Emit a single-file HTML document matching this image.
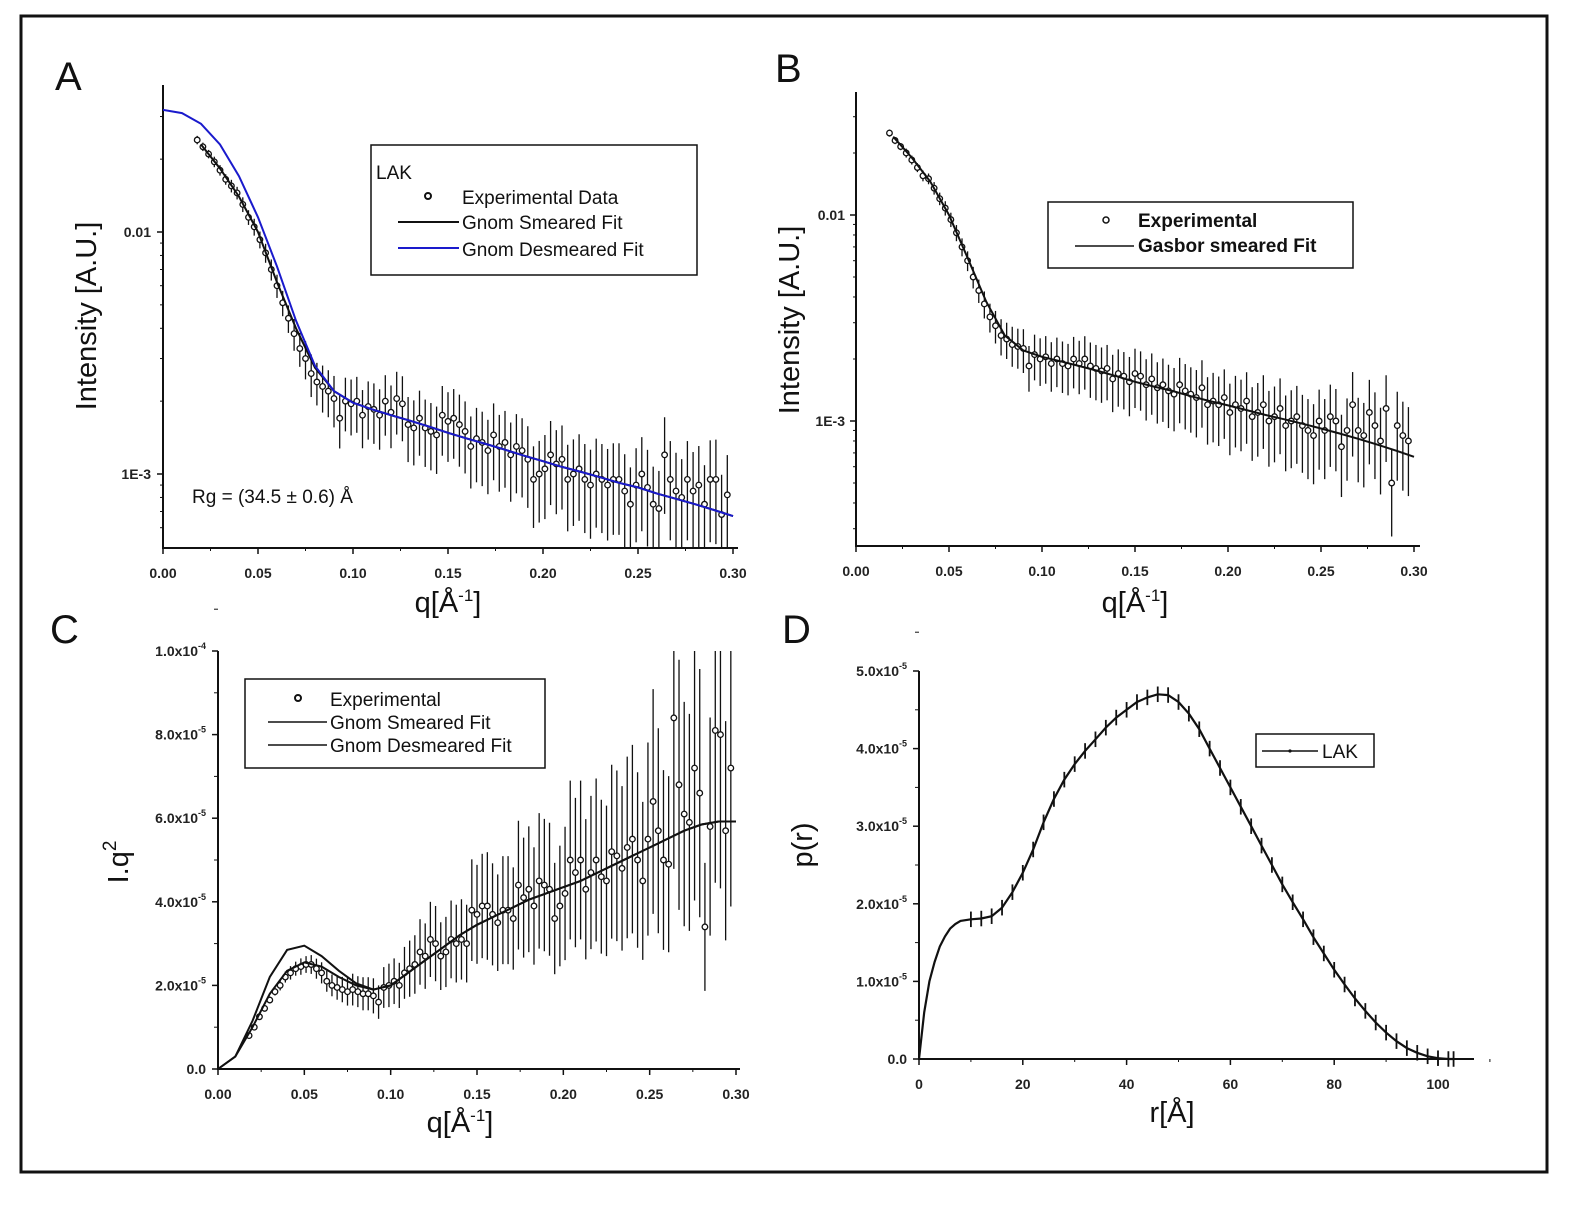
<!DOCTYPE html>
<html><head><meta charset="utf-8">
<style>
html,body{margin:0;padding:0;background:#fff;}
svg{display:block;font-family:"Liberation Sans",sans-serif;}
.tk{font-size:14px;font-weight:bold;fill:#222;}
.tt{font-size:29px;fill:#111;}
.lg{font-size:19px;fill:#111;}
.pl{font-size:40px;fill:#111;}
</style></head>
<body>
<svg id="fig" width="1593" height="1210" viewBox="0 0 1593 1210">
<rect x="21" y="16" width="1526" height="1156" fill="none" stroke="#111" stroke-width="3"/>
<defs>
<clipPath id="clipA"><rect x="163" y="85" width="575" height="463"/></clipPath>
<clipPath id="clipB"><rect x="856" y="92" width="565" height="454"/></clipPath>
<clipPath id="clipC"><rect x="218" y="651" width="525" height="418"/></clipPath>
</defs>
<text class="pl" x="55" y="90">A</text>
<text class="pl" x="775" y="82">B</text>
<text class="pl" x="50" y="643">C</text>
<text class="pl" x="782" y="643">D</text>
<g id="gA"></g>
<g id="gB"></g>
<g id="gC"></g>
<g id="gD"></g>
</svg>
<script>
// ---------- data ----------
const qStart = 0.018, qStep = 0.003;
const intensityA = [24,22.5,21,19.5,18,16.5,15.5,14.5,13,11.5,10.5,9.3,8.2,7.0,6.0,5.1,4.4,3.8,3.3,3.0,2.6,2.4,2.3,2.2,2.05,1.7,2.0,1.95,2.0,1.75,1.9,1.85,1.75,2.0,1.8,2.05,1.95,1.6,1.55,1.7,1.55,1.5,1.45,1.75,1.65,1.7,1.6,1.5,1.3,1.4,1.35,1.25,1.45,1.3,1.35,1.2,1.3,1.25,1.15,0.95,1.0,1.05,1.2,1.1,1.15,0.95,1.0,1.05,0.95,0.9,1.0,0.95,0.9,0.95,0.95,0.85,0.75,0.9,1.0,0.88,0.75,0.72,1.2,0.95,0.85,0.8,0.95,0.85,0.9,0.75,0.95,0.95,0.68,0.82];
const relErr = [.04,.04,.04,.05,.05,.05,.06,.06,.07,.07,.08,.08,.09,.1,.11,.12,.13,.15,.16,.18,.2,.2,.22,.22,.24,.25,.25,.26,.26,.27,.27,.28,.28,.28,.29,.29,.3,.3,.3,.3,.31,.31,.31,.32,.32,.32,.33,.33,.33,.34,.34,.34,.35,.35,.35,.36,.36,.36,.37,.37,.37,.38,.38,.38,.38,.39,.39,.39,.4,.4,.4,.4,.41,.41,.41,.42,.42,.42,.42,.43,.43,.43,.43,.44,.44,.44,.44,.45,.45,.45,.45,.46,.46,.46];
const fitQ = [0,.01,.02,.03,.04,.05,.06,.07,.08,.09,.10,.11,.12,.13,.14,.15,.16,.17,.18,.19,.20,.21,.22,.23,.24,.25,.26,.27,.28,.29,.30];
const desmearedA = [32,31,28,23,17,11.5,7.2,4.3,2.8,2.2,1.97,1.85,1.75,1.66,1.57,1.48,1.40,1.33,1.26,1.19,1.13,1.07,1.02,0.97,0.92,0.88,0.83,0.79,0.75,0.71,0.67];
const smearedA = [null,null,23,18.3,14,10,6.2,4.0,2.75,2.2,1.97,1.85,1.75,1.66,1.57,1.48,1.40,1.33,1.26,1.19,1.13,1.07,1.02,0.97,0.92,0.88,0.83,0.79,0.75,0.71,0.67];
const intensityB = [25,23,21.5,20,18.5,17,15.5,15,13.5,12,10.8,9.5,8.2,7.0,6.0,5.0,4.3,3.7,3.2,2.9,2.6,2.5,2.35,2.3,2.25,1.85,2.1,2.0,2.05,1.9,2.0,1.9,1.85,2.0,1.9,2.0,1.85,1.8,1.75,1.8,1.6,1.7,1.65,1.55,1.7,1.65,1.5,1.6,1.45,1.5,1.4,1.35,1.5,1.4,1.35,1.3,1.45,1.2,1.25,1.2,1.3,1.1,1.2,1.15,1.25,1.05,1.1,1.2,1.0,1.05,1.15,0.95,1.0,1.05,0.95,0.9,0.85,1.0,0.9,1.05,1.0,0.75,0.9,1.2,0.9,0.85,1.1,0.95,0.8,1.15,0.5,0.95,0.85,0.8];
const gasborB = [null,null,24,19,14.5,10,6.2,3.8,2.6,2.2,2.05,1.95,1.85,1.75,1.65,1.55,1.47,1.40,1.32,1.25,1.19,1.13,1.07,1.02,0.97,0.92,0.87,0.82,0.77,0.72,0.67];
const kratkyC = [0.8,1.0,1.25,1.45,1.65,1.85,2.0,2.2,2.3,2.4,2.45,2.5,2.5,2.4,2.3,2.1,2.0,1.95,1.9,1.85,1.9,1.85,1.8,1.8,1.75,1.6,1.95,2.0,2.1,2.0,2.3,2.4,2.5,2.8,2.7,3.1,3.0,2.7,2.8,3.1,3.0,3.1,3.0,3.8,3.7,3.9,3.9,3.7,3.5,3.8,3.8,3.6,4.4,4.1,4.3,3.9,4.5,4.4,4.3,3.6,3.9,4.2,5.0,4.7,5.0,4.3,4.7,5.0,4.6,4.5,5.2,5.1,4.8,5.3,5.5,5.0,4.5,5.5,6.4,5.7,5.0,4.9,8.4,6.8,6.1,5.9,7.2,6.6,3.4,5.8,8.1,8.0,5.7,7.2];
const desmearedC = [0,0.3,1.15,2.2,2.85,2.95,2.7,2.35,2.05,1.9,2.0,2.3,2.6,2.9,3.2,3.45,3.65,3.85,4.05,4.2,4.35,4.5,4.7,4.9,5.1,5.3,5.5,5.7,5.85,5.92,5.92];
const smearedC = [0,0.3,1.0,1.8,2.35,2.55,2.45,2.2,2.0,1.9,2.0,2.3,2.6,2.9,3.2,3.45,3.65,3.85,4.05,4.2,4.35,4.5,4.7,4.9,5.1,5.3,5.5,5.7,5.85,5.92,5.92];
const rD = [0,1,2,3,4,5,6,7,8,10,12,14,16,18,20,22,24,26,28,30,32,34,36,38,40,42,44,46,48,50,52,54,56,58,60,62,64,66,68,70,72,74,76,78,80,82,84,86,88,90,92,94,96,98,100,102,103];
const prD = [0,0.6,1.0,1.25,1.45,1.58,1.68,1.74,1.78,1.8,1.81,1.84,1.95,2.15,2.4,2.7,3.05,3.35,3.6,3.8,3.97,4.12,4.27,4.4,4.5,4.6,4.66,4.7,4.69,4.6,4.45,4.25,4.0,3.75,3.5,3.25,3.0,2.75,2.5,2.25,2.02,1.8,1.57,1.36,1.15,0.96,0.78,0.62,0.47,0.34,0.23,0.14,0.08,0.035,0.01,0.0,0];
const prErr = 0.1;
const qTicks = ["0.00","0.05","0.10","0.15","0.20","0.25","0.30"];
const cTicks = ["0.0","2.0x10","4.0x10","6.0x10","8.0x10","1.0x10"];
const dTicks = ["0.0","1.0x10","2.0x10","3.0x10","4.0x10","5.0x10"];
const rTicks = [0,20,40,60,80,100];

// ---------- helpers ----------
const NS = "http://www.w3.org/2000/svg";
function mk(parent, tag, attrs){const e=document.createElementNS(NS,tag);for(const k in attrs)e.setAttribute(k,attrs[k]);parent.appendChild(e);return e;}
function linX(x0,px0,x1,px1){return v=>px0+(v-x0)*(px1-px0)/(x1-x0);}
function logY(py01,py001){const dec=py001-py01;return v=>py01+(Math.log10(v)+2)*(-dec);}
function pathD(xs,ys,fx,fy){let d="";let started=false;for(let i=0;i<xs.length;i++){if(ys[i]===null)continue;d+=(started?"L":"M")+fx(xs[i]).toFixed(1)+","+fy(ys[i]).toFixed(1);started=true;}return d;}

function axes(g,x0,y0,x1,y1){
  const a=mk(g,"path",{d:`M${x0},${y1}L${x0},${y0}L${x1},${y0}`,fill:"none",stroke:"#111","stroke-width":2});
  
  
}
function xTicks(g,fx,vals,labels,y0,minorStep,xmin,xmax){
  vals.forEach((v,i)=>{
    const x=fx(v);
    const t=mk(g,"line",{x1:x,y1:y0,x2:x,y2:y0+6,stroke:"#111","stroke-width":1.5});
    
    
    const tx=mk(g,"text",{x:x,y:y0+30,"text-anchor":"middle",class:"tk"});
    tx.textContent=labels[i];
    
    
  });
  for(let v=xmin;v<=xmax+1e-9;v+=minorStep){
    const x=fx(v);
    mk(g,"line",{x1:x,y1:y0,x2:x,y2:y0+3,stroke:"#111","stroke-width":1});
  }
}
function errPts(g,xs,ys,errs,fx,fy,clip,pos){
  const eg=mk(g,"g",{"clip-path":`url(#${clip})`});
  
  
  for(let i=0;i<ys.length;i++){
    const x=fx(xs[i]);const v=ys[i];const e=v*errs[i%errs.length];
    const lo=pos?Math.max(v-e,1e-9):v-e;
    const bar=mk(eg,"line",{x1:x,y1:fy(lo),x2:x,y2:fy(v+e),stroke:"#111","stroke-width":1.3});
    
    
    const c=mk(eg,"circle",{cx:x,cy:fy(v),r:2.8,fill:"#fff",stroke:"#111","stroke-width":1.3});
    
    
  }
}
function text(g,x,y,s,cls,extra,name){const t=mk(g,"text",Object.assign({x:x,y:y,class:cls},extra||{}));t.innerHTML=s;return t;}
const qs = intensityA.map((_,i)=>qStart+i*qStep);
const qTickVals = qTicks.map(Number);

// ---------- Panel A ----------
(function(){
  const g=document.getElementById("gA");
  const fx=linX(0,163,0.30,733), fy=logY(232,474);
  axes(g,163,548,738,85);
  xTicks(g,fx,qTickVals,qTicks,548,0.025,0,0.3);
  [[0.01,"0.01"],[0.001,"1E-3"]].forEach(([v,l])=>{
    mk(g,"line",{x1:157,y1:fy(v),x2:163,y2:fy(v),stroke:"#111","stroke-width":1.5});
    text(g,151,fy(v)+5,l,"tk",{"text-anchor":"end","font-weight":"normal"},"y-tick-label");
  });
  [0.03,0.02,0.009,0.008,0.007,0.006,0.005,0.004,0.003,0.002,0.0009,0.0008,0.0007,0.0006].forEach(v=>mk(g,"line",{x1:160,y1:fy(v),x2:163,y2:fy(v),stroke:"#111","stroke-width":1}));
  errPts(g,qs,intensityA.map(v=>v/1000),relErr,fx,fy,"clipA",true);
  const sm=mk(g,"path",{d:pathD(fitQ,smearedA.map(v=>v===null?null:v/1000),fx,fy),fill:"none",stroke:"#111","stroke-width":2,"clip-path":"url(#clipA)"});
  
  
  const ds=mk(g,"path",{d:pathD(fitQ,desmearedA.map(v=>v/1000),fx,fy),fill:"none",stroke:"#1a1acc","stroke-width":2,"clip-path":"url(#clipA)"});
  
  
  text(g,0,0,"Intensity [A.U.]","tt",{transform:"translate(96,316) rotate(-90)","text-anchor":"middle"},"y-axis-title");
  text(g,448,612,"q[Å<tspan font-size='17' dy='-11'>-1</tspan><tspan dy='11'>]</tspan>","tt",{"text-anchor":"middle"},"x-axis-title");
  text(g,192,503,"Rg = (34.5 ± 0.6) Å","lg",{"font-size":"21"},"rg-annotation");
  const lg=mk(g,"g",{});
  
  
  mk(lg,"rect",{x:371,y:145,width:326,height:130,fill:"#fff",stroke:"#111","stroke-width":1.5});
  text(lg,376,179,"LAK","lg",{},"legend-title");
  mk(lg,"circle",{cx:428,cy:196,r:3,fill:"#fff",stroke:"#111","stroke-width":2});
  text(lg,462,204,"Experimental Data","lg",{},"legend-entry-data");
  mk(lg,"line",{x1:398,y1:222,x2:459,y2:222,stroke:"#111","stroke-width":2});
  text(lg,462,229,"Gnom Smeared Fit","lg",{},"legend-entry-smeared");
  mk(lg,"line",{x1:398,y1:248,x2:459,y2:248,stroke:"#1a1acc","stroke-width":2});
  text(lg,462,256,"Gnom Desmeared Fit","lg",{},"legend-entry-desmeared");
})();

// ---------- Panel B ----------
(function(){
  const g=document.getElementById("gB");
  const fx=linX(0,856,0.30,1414), fy=logY(215,421);
  axes(g,856,546,1420,92);
  xTicks(g,fx,qTickVals,qTicks,546,0.025,0,0.3);
  [[0.01,"0.01"],[0.001,"1E-3"]].forEach(([v,l])=>{
    mk(g,"line",{x1:850,y1:fy(v),x2:856,y2:fy(v),stroke:"#111","stroke-width":1.5});
    text(g,845,fy(v)+5,l,"tk",{"text-anchor":"end","font-weight":"normal"},"y-tick-label");
  });
  [0.03,0.02,0.009,0.008,0.007,0.006,0.005,0.004,0.003,0.002,0.0009,0.0008,0.0007,0.0006,0.0005,0.0004,0.0003].forEach(v=>mk(g,"line",{x1:853,y1:fy(v),x2:856,y2:fy(v),stroke:"#111","stroke-width":1}));
  errPts(g,qs,intensityB.map(v=>v/1000),relErr,fx,fy,"clipB",true);
  const f=mk(g,"path",{d:pathD(fitQ,gasborB.map(v=>v===null?null:v/1000),fx,fy),fill:"none",stroke:"#111","stroke-width":2});
  
  
  text(g,0,0,"Intensity [A.U.]","tt",{transform:"translate(799,320) rotate(-90)","text-anchor":"middle"},"y-axis-title");
  text(g,1135,612,"q[Å<tspan font-size='17' dy='-11'>-1</tspan><tspan dy='11'>]</tspan>","tt",{"text-anchor":"middle"},"x-axis-title");
  const lg=mk(g,"g",{});
  
  
  mk(lg,"rect",{x:1048,y:202,width:305,height:66,fill:"#fff",stroke:"#111","stroke-width":1.5});
  mk(lg,"circle",{cx:1106,cy:220,r:3,fill:"#fff",stroke:"#111","stroke-width":1.5});
  text(lg,1138,227,"Experimental","lg",{"font-weight":"bold","font-size":"18"},"legend-entry-data");
  mk(lg,"line",{x1:1075,y1:246,x2:1134,y2:246,stroke:"#111","stroke-width":1.5});
  text(lg,1138,252,"Gasbor smeared Fit","lg",{"font-weight":"bold","font-size":"18"},"legend-entry-fit");
})();

// ---------- Panel C ----------
(function(){
  const g=document.getElementById("gC");
  const fx=linX(0,218,0.30,736), fy=linX(0,1069,10,651);
  axes(g,218,1069,740,651);
  xTicks(g,fx,qTickVals,qTicks,1069,0.025,0,0.3);
  cTicks.forEach((l,i)=>{
    const y=fy(i*2);
    mk(g,"line",{x1:212,y1:y,x2:218,y2:y,stroke:"#111","stroke-width":1.5});
    mk(g,"line",{x1:214,y1:fy(i*2+1),x2:218,y2:fy(i*2+1),stroke:"#111","stroke-width":1});
    const exp=i===0?"":(i===5?"-4":"-5");
    text(g,206,y+5,l+(exp?"<tspan font-size='9' dy='-7'>"+exp+"</tspan>":""),"tk",{"text-anchor":"end","font-size":"13"},"y-tick-label");
  });
  errPts(g,qs,kratkyC,relErr,fx,fy,"clipC",false);
  [[smearedC,"gnom-smeared-fit"],[desmearedC,"gnom-desmeared-fit"]].forEach(([arr,n])=>{
    const p=mk(g,"path",{d:pathD(fitQ,arr,fx,fy),fill:"none",stroke:"#111","stroke-width":2});
    
    
  });
  text(g,0,0,"I.q<tspan font-size='19' dy='-12'>2</tspan>","tt",{transform:"translate(128,862) rotate(-90)","text-anchor":"middle"},"y-axis-title");
  text(g,460,1132,"q[Å<tspan font-size='17' dy='-11'>-1</tspan><tspan dy='11'>]</tspan>","tt",{"text-anchor":"middle"},"x-axis-title");
  const lg=mk(g,"g",{});
  
  
  mk(lg,"rect",{x:245,y:679,width:300,height:89,fill:"#fff",stroke:"#111","stroke-width":1.5});
  mk(lg,"circle",{cx:298,cy:698,r:3,fill:"#fff",stroke:"#111","stroke-width":2});
  text(lg,330,706,"Experimental","lg",{"font-size":"17"},"legend-entry-data");
  mk(lg,"line",{x1:268,y1:722,x2:327,y2:722,stroke:"#111","stroke-width":1.5});
  text(lg,330,729,"Gnom Smeared Fit","lg",{"font-size":"17"},"legend-entry-smeared");
  mk(lg,"line",{x1:268,y1:745,x2:327,y2:745,stroke:"#111","stroke-width":1.5});
  text(lg,330,752,"Gnom Desmeared Fit","lg",{"font-size":"17"},"legend-entry-desmeared");
})();

// ---------- Panel D ----------
(function(){
  const g=document.getElementById("gD");
  const fx=linX(0,919,100,1438), fy=linX(0,1059,5,671);
  axes(g,919,1059,1474,671);
  xTicks(g,fx,rTicks,rTicks.map(String),1059,10,0,110);
  dTicks.forEach((l,i)=>{
    const y=fy(i);
    mk(g,"line",{x1:913,y1:y,x2:919,y2:y,stroke:"#111","stroke-width":1.5});
    mk(g,"line",{x1:915,y1:fy(i+0.5),x2:919,y2:fy(i+0.5),stroke:"#111","stroke-width":1});
    text(g,907,y+5,l+(i?"<tspan font-size='9' dy='-7'>-5</tspan>":""),"tk",{"text-anchor":"end","font-size":"13"},"y-tick-label");
  });
  const line=mk(g,"path",{d:pathD(rD,prD,fx,fy),fill:"none",stroke:"#111","stroke-width":2.2});
  
  
  for(let i=9;i<rD.length;i++){
    const x=fx(rD[i]);
    const b=mk(g,"line",{x1:x,y1:fy(prD[i]-prErr),x2:x,y2:fy(prD[i]+prErr),stroke:"#111","stroke-width":1.8});
    
    
  }
  text(g,0,0,"p(r)","tt",{transform:"translate(812,845) rotate(-90)","text-anchor":"middle"},"y-axis-title");
  text(g,1172,1122,"r[Å]","tt",{"text-anchor":"middle"},"x-axis-title");
  const lg=mk(g,"g",{});
  
  
  mk(lg,"rect",{x:1256,y:734,width:118,height:33,fill:"#fff",stroke:"#111","stroke-width":1.5});
  mk(lg,"line",{x1:1262,y1:751,x2:1318,y2:751,stroke:"#111","stroke-width":1.5});
  mk(lg,"circle",{cx:1290,cy:751,r:1.6,fill:"#111"});
  text(lg,1322,758,"LAK","lg",{"font-size":"17"},"legend-entry-lak");
})();
</script>
</body></html>
